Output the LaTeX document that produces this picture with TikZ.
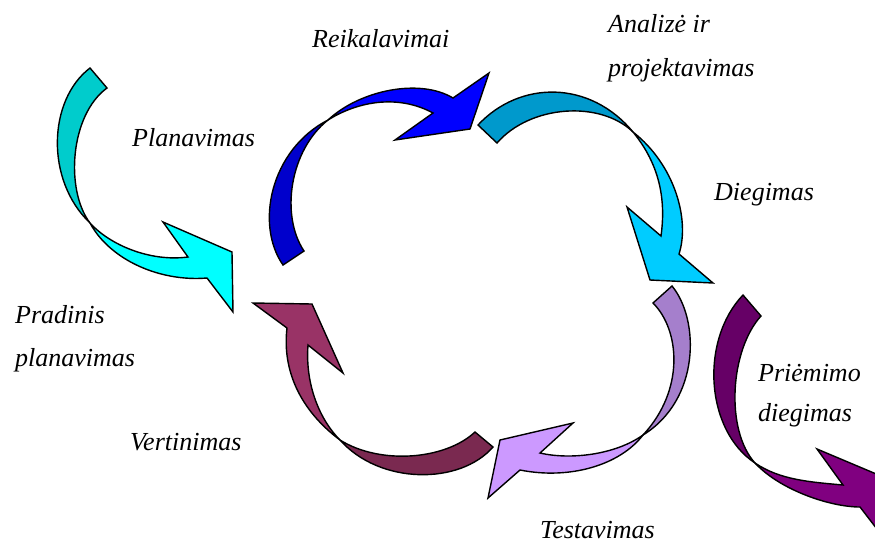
\documentclass[tikz,border=0pt]{standalone}
\usepackage{fontspec}
\setmainfont{Liberation Serif}
\definecolor{cyanback}{HTML}{00CCCC}
\definecolor{cyanfront}{HTML}{00FFFF}
\definecolor{blueback}{HTML}{0000CC}
\definecolor{bluefront}{HTML}{0000FF}
\definecolor{tealback}{HTML}{0099CC}
\definecolor{tealfront}{HTML}{00CCFF}
\definecolor{lavback}{HTML}{A57FCC}
\definecolor{lavfront}{HTML}{CC99FF}
\definecolor{marback}{HTML}{7A2950}
\definecolor{marfront}{HTML}{993366}
\definecolor{purback}{HTML}{660066}
\definecolor{purfront}{HTML}{800080}
\begin{document}
\begin{tikzpicture}[x=1pt,y=-1pt,
  arr/.style={draw=black, line width=1.4pt, line join=miter},
  lbl/.style={font=\fontsize{26}{43}\selectfont\itshape, anchor=base west, inner sep=0pt}]
\useasboundingbox (0,0) rectangle (875,542);
\begin{scope}
\clip (0,0) rectangle (875,542);
% Arrow 1: Planavimas (cyan)
\filldraw[arr, fill=cyanback] (90,68) .. controls (48,100) and (45,180) .. (90,223)
  .. controls (65,190) and (70,115) .. (107,88) -- cycle;
\filldraw[arr, fill=cyanfront] (90,223) .. controls (110,260) and (160,282) .. (207,278)
  -- (233,312) -- (232,252) -- (163,222) -- (188,257)
  .. controls (150,262) and (110,245) .. (90,223) -- cycle;
% Arrow 2: Reikalavimai (blue)
\filldraw[arr, fill=blueback] (283,265) .. controls (255,225) and (270,150) .. (328,120)
  .. controls (290,150) and (280,215) .. (304,251) -- cycle;
\filldraw[arr, fill=bluefront] (328,120) .. controls (360,90) and (420,78) .. (453,98)
  -- (489,73) -- (470,129) -- (395,140) -- (433,113)
  .. controls (400,95) and (360,100) .. (328,120) -- cycle;
% Arrow 3: Analize ir projektavimas (teal)
\filldraw[arr, fill=tealback] (478,125) .. controls (520,80) and (590,80) .. (633,132)
  .. controls (600,100) and (530,105) .. (497,143) -- cycle;
\filldraw[arr, fill=tealfront] (633,132) .. controls (675,165) and (690,220) .. (679,254)
  -- (713,283) -- (650,280) -- (627,207) -- (661,236)
  .. controls (666,200) and (660,165) .. (633,132) -- cycle;
% Arrow 4: Testavimas (lavender)
\filldraw[arr, fill=lavback] (672,286) .. controls (700,320) and (700,400) .. (643,435)
  .. controls (685,390) and (680,330) .. (653,303) -- cycle;
\filldraw[arr, fill=lavfront] (643,435) .. controls (620,465) and (570,480) .. (520,470)
  -- (488,498) -- (500,440) -- (573,423) -- (540,453)
  .. controls (570,460) and (615,455) .. (643,435) -- cycle;
% Arrow 5: Vertinimas (maroon)
\filldraw[arr, fill=marback] (493,447) .. controls (460,485) and (380,485) .. (340,440)
  .. controls (380,465) and (445,460) .. (475,432) -- cycle;
\filldraw[arr, fill=marfront] (340,440) .. controls (300,410) and (282,370) .. (287,328)
  -- (253,303) -- (312,304) -- (343,373) -- (308,345)
  .. controls (305,385) and (320,420) .. (340,440) -- cycle;
% Arrow 6: Priemimo diegimas (purple)
\filldraw[arr, fill=purback] (743,295) .. controls (700,340) and (705,430) .. (755,463)
  .. controls (725,430) and (730,350) .. (761,316) -- cycle;
\filldraw[arr, fill=purfront] (755,463) .. controls (780,490) and (830,507) .. (860,507)
  -- (890,546) -- (905,500) -- (900,484) -- (817,449) -- (843,485)
  .. controls (810,482) and (780,480) .. (755,463) -- cycle;
\end{scope}
% Labels
\node[lbl] (reik) at (312,47) {Reikalavimai};
\node[lbl] (anal1) at (608,32) {Analizė ir};
\node[lbl] (anal2) at (608,76) {projektavimas};
\node[lbl] (plan) at (132,146) {Planavimas};
\node[lbl] (dieg) at (714,200) {Diegimas};
\node[lbl] (prad1) at (15,323) {Pradinis};
\node[lbl] (prad2) at (15,366) {planavimas};
\node[lbl] (prie1) at (758,381) {Priėmimo};
\node[lbl] (prie2) at (758,421) {diegimas};
\node[lbl] (vert) at (130,450) {Vertinimas};
\node[lbl] (test) at (540,538) {Testavimas};
\end{tikzpicture}
\end{document}
